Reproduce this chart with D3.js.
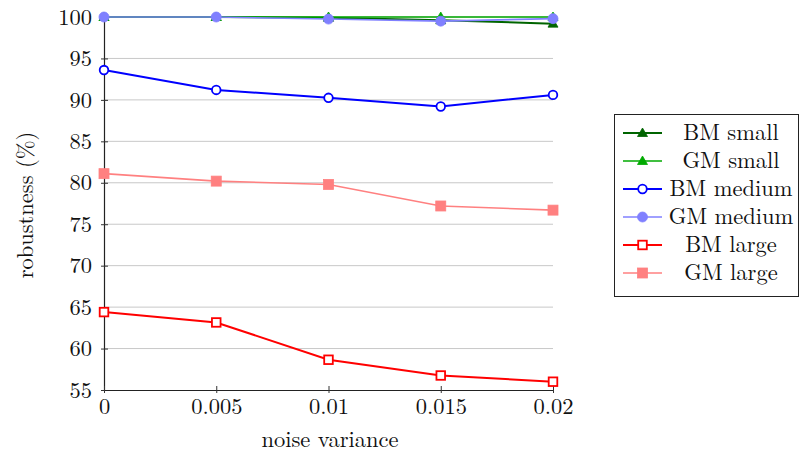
<!DOCTYPE html>
<html><head><meta charset="utf-8">
<script src="https://cdn.jsdelivr.net/npm/d3@7"></script>
<style>body{margin:0;background:#fff}svg{display:block}</style>
</head><body><svg id="c" width="800" height="456"></svg>
<script>
const xValues = [0, 0.005, 0.01, 0.015, 0.02];
const xTickLabels = ["0", "0.005", "0.01", "0.015", "0.02"];
const yTicks = [55, 60, 65, 70, 75, 80, 85, 90, 95, 100];
const bmSmall = [100, 100, 99.9, 99.6, 99.2];
const gmSmall = [100, 100, 100, 100, 100];
const bmMedium = [93.6, 91.2, 90.25, 89.2, 90.6];
const gmMedium = [100, 100, 99.75, 99.5, 99.8];
const bmLarge = [64.4, 63.15, 58.65, 56.75, 56.0];
const gmLarge = [81.1, 80.2, 79.8, 77.2, 76.7];
const seriesNames = ["BM small", "GM small", "BM medium", "GM medium", "BM large", "GM large"];

const FONT = "'Latin Modern Roman', 'Liberation Serif', serif";
const FS = 22.5;

const series = [
  {name: seriesNames[0], values: bmSmall, color: "#006400", marker: "triangle", fill: true, w: 2},
  {name: seriesNames[1], values: gmSmall, color: "#00aa00", marker: "triangle", fill: true, w: 1.6},
  {name: seriesNames[2], values: bmMedium, color: "#0000ff", marker: "circle", fill: false, w: 2},
  {name: seriesNames[3], values: gmMedium, color: "#8080ff", marker: "circle", fill: true, w: 1.6},
  {name: seriesNames[4], values: bmLarge, color: "#ff0000", marker: "square", fill: false, w: 2},
  {name: seriesNames[5], values: gmLarge, color: "#ff8080", marker: "square", fill: true, w: 1.6}
];

const svg = d3.select("#c");
const L = 104, R = 553, T = 17, B = 390;
const x = d3.scaleLinear().domain([0, 0.02]).range([L, R]);
const y = d3.scaleLinear().domain([55, 100]).range([B, T]);

// grid
svg.append("g").selectAll("line").data(yTicks.slice(1)).join("line")
  .attr("x1", L).attr("x2", R).attr("y1", d => y(d)).attr("y2", d => y(d))
  .attr("stroke", "#c8c8c8").attr("stroke-width", 1);

// axes
const yAxis = d3.axisLeft(y).tickValues(yTicks).tickSize(0).tickPadding(12);
const gy = svg.append("g").attr("transform", `translate(${L},0)`).call(yAxis);
gy.select(".domain").attr("stroke", "#222").attr("stroke-width", 1.2);
gy.selectAll("text").attr("font-size", FS).style("font-family", FONT).attr("fill", "#111");
gy.selectAll(".tick").append("line").attr("x1", -3).attr("x2", 4).attr("stroke", "#333");

const xAxis = d3.axisBottom(x).tickValues(xValues).tickFormat((d, i) => xTickLabels[i]).tickSize(0).tickPadding(8);
const gx = svg.append("g").attr("transform", `translate(0,${B})`).call(xAxis);
gx.select(".domain").attr("stroke", "#222").attr("stroke-width", 1.2);
gx.selectAll("text").attr("font-size", FS).style("font-family", FONT).attr("fill", "#111");
gx.selectAll(".tick").append("line").attr("y1", -4).attr("y2", 3).attr("stroke", "#333");

// axis titles
svg.append("text").attr("x", 330).attr("y", 447).attr("text-anchor", "middle")
  .attr("font-size", FS).style("font-family", FONT).attr("fill", "#111").text("noise variance");
svg.append("text").attr("transform", "translate(33,205) rotate(-90)").attr("text-anchor", "middle")
  .attr("font-size", FS).style("font-family", FONT).attr("fill", "#111").text("robustness (%)");

function drawMarker(g, type, cx, cy, s) {
  const sw = s.fill ? 0.8 : 1.8;
  const fill = s.fill ? s.color : "#fff";
  if (type === "circle") {
    g.append("circle").attr("cx", cx).attr("cy", cy).attr("r", s.fill ? 5 : 4.3)
      .attr("fill", fill).attr("stroke", s.color).attr("stroke-width", sw);
  } else if (type === "square") {
    const h = s.fill ? 5 : 4.3;
    g.append("rect").attr("x", cx - h).attr("y", cy - h).attr("width", 2 * h).attr("height", 2 * h)
      .attr("fill", fill).attr("stroke", s.color).attr("stroke-width", sw);
  } else {
    const h = 5;
    g.append("path").attr("d", `M${cx},${cy - h}L${cx + h},${cy + h * 0.7}L${cx - h},${cy + h * 0.7}Z`)
      .attr("fill", fill).attr("stroke", s.color).attr("stroke-width", sw);
  }
}

const line = d3.line().x((d, i) => x(xValues[i])).y(d => y(d));
series.forEach(s => {
  const g = svg.append("g");
  g.append("path").attr("d", line(s.values)).attr("fill", "none").attr("stroke", s.color).attr("stroke-width", s.w);
  s.values.forEach((v, i) => drawMarker(g, s.marker, x(xValues[i]), y(v), s));
});

// legend
const lg = svg.append("g");
lg.append("rect").attr("x", 614.5).attr("y", 114.5).attr("width", 184).attr("height", 182)
  .attr("fill", "#fff").attr("stroke", "#222").attr("stroke-width", 1);
series.forEach((s, i) => {
  const cy = 133 + i * 28;
  lg.append("line").attr("x1", 623).attr("x2", 662).attr("y1", cy).attr("y2", cy).attr("stroke", s.color).attr("stroke-width", s.w);
  drawMarker(lg, s.marker, 642.5, cy, s);
  lg.append("text").attr("x", 731).attr("y", cy + 7).attr("text-anchor", "middle")
    .attr("font-size", FS).style("font-family", FONT).attr("fill", "#111").text(s.name);
});
</script></body></html>
